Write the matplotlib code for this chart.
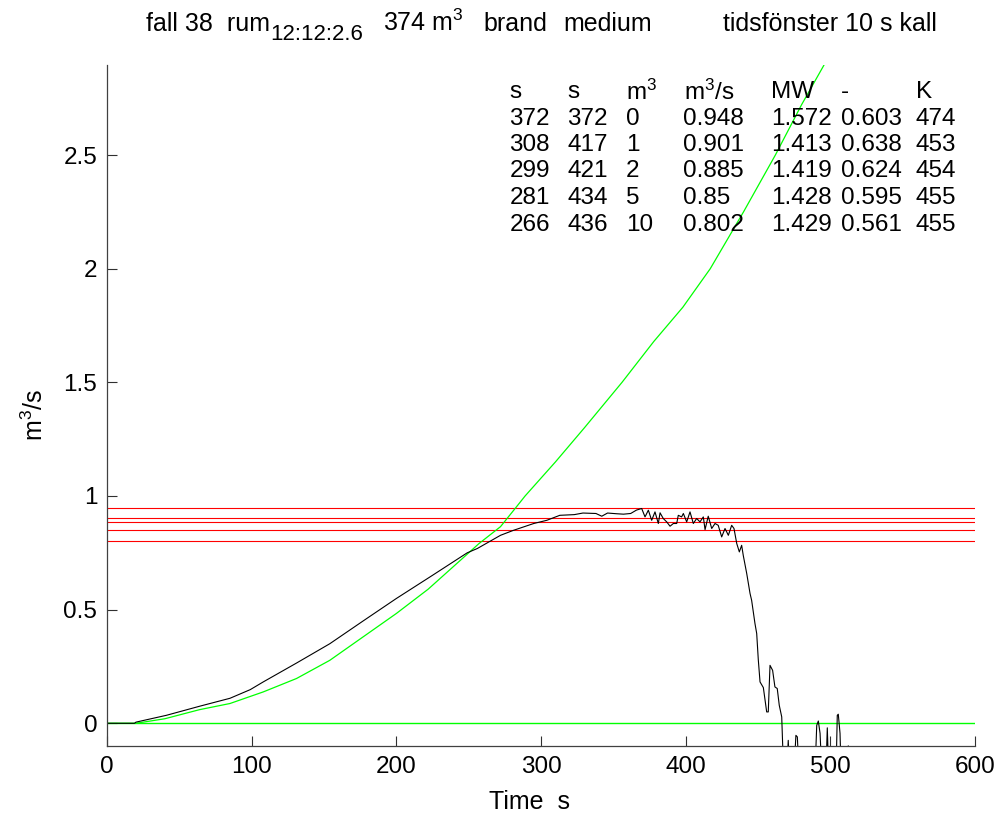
import matplotlib
matplotlib.use("Agg")
import matplotlib.pyplot as plt
import numpy as np

plt.rcParams['font.family'] = ['Liberation Sans', 'DejaVu Sans']
plt.rcParams['mathtext.default'] = 'regular'

# measured flow (black)
t_meas = [0, 19, 20, 41, 64, 85, 99, 108, 131, 154, 177, 200, 225, 249, 256, 272, 281,
          295, 304, 313, 323, 329, 338, 342, 346, 352, 357, 362, 366,
          369.6, 371.9, 374.2, 376.5, 378.8, 381.1, 382.3, 384.5, 386.9, 389.2, 391.5,
          393.8, 394.9, 397.2, 398.4, 400.7, 403.0, 405.3, 407.6, 409.9, 412.2, 413.4,
          415.6, 418.0, 420.3, 422.5, 424.9, 427.2, 429.5, 431.8, 433.4, 435.3, 437.1,
          438.7, 439.8, 442.2, 444.5, 445.6, 447.9, 449.1, 450.2, 451.4, 453.7, 456.0,
          457.1, 458.3, 460.1, 461.7, 463.3, 464.7, 466.4, 467.1, 468.5, 470.0, 470.9,
          471.8, 475.0, 476.2, 477.2, 478.2, 489.5, 490.6, 491.7, 492.9, 494.0,
          497.0, 497.9, 498.8, 504.0, 504.8, 505.5, 506.7, 507.4, 512.4]
v_meas = [0, 0, 0.005, 0.035, 0.075, 0.11, 0.148, 0.182, 0.265, 0.350, 0.450, 0.549, 0.651,
          0.750, 0.769, 0.827, 0.849, 0.879, 0.893, 0.915, 0.918, 0.925, 0.923, 0.911,
          0.925, 0.922, 0.920, 0.923, 0.938,
          0.945, 0.908, 0.9375, 0.893, 0.930, 0.879, 0.926, 0.901, 0.886, 0.867, 0.879,
          0.879, 0.915, 0.908, 0.923, 0.886, 0.930, 0.879, 0.901, 0.886, 0.908, 0.852,
          0.911, 0.857, 0.879, 0.871, 0.820, 0.857, 0.827, 0.871, 0.857, 0.791, 0.754,
          0.783, 0.739, 0.659, 0.571, 0.541, 0.439, 0.395, 0.28, 0.182, 0.157, 0.050,
          0.050, 0.255, 0.233, 0.160, 0.153, 0.079, 0.028, -0.104, -0.2, -0.2, -0.075,
          -0.2, -0.2, -0.053, -0.06, -0.2, -0.2, -0.009, 0.01, -0.044, -0.2,
          -0.2, -0.02, -0.2, -0.2, 0.035, 0.04, -0.044, -0.2, -0.1]

# design fire curve (green)
t_fire = [0, 20, 40, 64, 85, 108, 131, 154, 177, 200, 222, 249, 257, 272, 283, 289,
          310, 330, 356, 378, 398, 417, 440, 462, 480, 495, 502]
v_fire = [0, 0, 0.02, 0.06, 0.087, 0.138, 0.197, 0.277, 0.380, 0.483, 0.59, 0.744,
          0.79, 0.865, 0.952, 1.0, 1.15, 1.30, 1.5, 1.68, 1.83, 2.0, 2.25, 2.5, 2.72,
          2.889, 2.97]

# table values
col_units = ['s', 's', 'm$^3$', 'm$^3$/s', 'MW', '-', 'K']
t1 = ['372', '308', '299', '281', '266']
t2 = ['372', '417', '421', '434', '436']
vol = ['0', '1', '2', '5', '10']
flow = [0.948, 0.901, 0.885, 0.85, 0.802]
flow_txt = ['0.948', '0.901', '0.885', '0.85', '0.802']
mw = ['1.572', '1.413', '1.419', '1.428', '1.429']
ratio = ['0.603', '0.638', '0.624', '0.595', '0.561']
temp = ['474', '453', '454', '455', '455']

fig = plt.figure(figsize=(10, 8.18), dpi=100)
ax = fig.add_axes([0.107, 0.088, 0.868, 0.8325])

for f in flow:
    ax.axhline(f, color='red', lw=0.8)
ax.plot([0, 600], [0, 0], color='#00ff00', lw=1.0)
ax.plot(t_fire, v_fire, color='#00ff00', lw=0.9)
ax.plot(t_meas, v_meas, color='black', lw=0.8)

ax.set_xlim(0, 600)
ax.set_ylim(-0.1, 2.896)
ax.set_xticks(np.arange(0, 601, 100))
ax.set_yticks([0, 0.5, 1, 1.5, 2, 2.5])
ax.set_yticklabels(['0', '0.5', '1', '1.5', '2', '2.5'])
ax.tick_params(direction='in', length=7, width=0.8, labelsize=17.5, pad=7, colors='#303030')
ax.tick_params(labelcolor='black')
for s in ['top', 'right']:
    ax.spines[s].set_visible(False)
for s in ['left', 'bottom']:
    ax.spines[s].set_color('#404040')
    ax.spines[s].set_linewidth(0.9)

ax.set_xlabel('Time  s', fontsize=18)
ax.set_ylabel('m$^3$/s', fontsize=18)
ax.xaxis.set_label_coords(0.487, -0.064)
ax.yaxis.set_label_coords(-0.068, 0.486)

# title pieces (baseline in figure fraction)
base = 1 - 31 / 818
renderer = fig.canvas.get_renderer()
t = fig.text(0.146, base, 'fall 38  rum', ha='left', va='baseline', fontsize=18)
bb = t.get_window_extent(renderer=renderer)
fig.text(bb.x1 / 1000, base - 9 / 818, '12:12:2.6', ha='left', va='baseline', fontsize=16)
fig.text(0.383, base, '374 m$^3$', ha='left', va='baseline', fontsize=18)
fig.text(0.483, base, 'brand', ha='left', va='baseline', fontsize=18)
fig.text(0.563, base, 'medium', ha='left', va='baseline', fontsize=18)
fig.text(0.937, base, 'tidsfönster 10 s kall', ha='right', va='baseline', fontsize=18)

# table in upper right
col_x = [0.5095, 0.5675, 0.626, 0.6835, 0.771, 0.841, 0.916]
row_y = [0.887, 0.855, 0.823, 0.791, 0.758, 0.725]
cols = [t1, t2, vol, flow_txt, mw, ratio, temp]
for x, u in zip(col_x, col_units):
    fig.text(x, row_y[0], u, ha='left', va='center', fontsize=17.5)
for x, c in zip(col_x, cols):
    for y, s in zip(row_y[1:], c):
        fig.text(x, y, s, ha='left', va='center', fontsize=17.5)

fig.savefig('out.png', dpi=100)
